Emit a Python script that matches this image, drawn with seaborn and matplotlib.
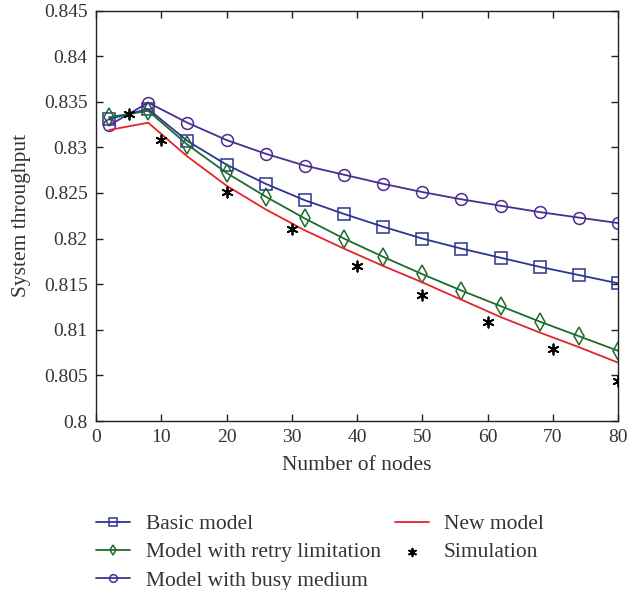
import numpy as np
import pandas as pd
import matplotlib
matplotlib.use("Agg")
import matplotlib.pyplot as plt
import seaborn as sns

# Number of nodes evaluated by the analytical models
nodes = [2, 8, 14, 20, 26, 32, 38, 44, 50, 56, 62, 68, 74, 80]

basic_model = [0.8331, 0.8342, 0.8307, 0.8281, 0.8260, 0.8242, 0.8227, 0.8213,
               0.8200, 0.8189, 0.8179, 0.8169, 0.8160, 0.8151]
retry_model = [0.8333, 0.8340, 0.8303, 0.8272, 0.8246, 0.8222, 0.8200, 0.8180,
               0.8161, 0.8143, 0.8126, 0.8109, 0.8093, 0.8077]
busy_model = [0.8324, 0.8349, 0.8327, 0.8308, 0.8293, 0.8280, 0.8270, 0.8260,
              0.8251, 0.8243, 0.8236, 0.8229, 0.8223, 0.8217]
new_model = [0.8319, 0.8327, 0.8290, 0.8258, 0.8232, 0.8209, 0.8189, 0.8170,
             0.8152, 0.8133, 0.8114, 0.8097, 0.8081, 0.8064]

# Simulation results
sim_nodes = [5, 10, 20, 30, 40, 50, 60, 70, 80]
simulation = [0.8337, 0.8308, 0.8251, 0.8211, 0.8170, 0.8138, 0.8109, 0.8079, 0.8044]

x_ticks = [0, 10, 20, 30, 40, 50, 60, 70, 80]
y_ticks = [0.8, 0.805, 0.81, 0.815, 0.82, 0.825, 0.83, 0.835, 0.84, 0.845]
y_tick_labels = ["0.8", "0.805", "0.81", "0.815", "0.82", "0.825", "0.83", "0.835", "0.84", "0.845"]

sns.set_style("ticks")
plt.rcParams["font.family"] = ["Liberation Serif", "DejaVu Serif"]

fig = plt.figure(figsize=(6.27, 5.90), dpi=100)
ax = fig.add_axes([96 / 627, 1 - 421 / 590, (618 - 96) / 627, (421 - 10.5) / 590])

df = pd.DataFrame({
    "nodes": nodes * 4,
    "value": basic_model + retry_model + busy_model + new_model,
    "series": (["Basic model"] * len(nodes) + ["Model with retry limitation"] * len(nodes)
               + ["Model with busy medium"] * len(nodes) + ["New model"] * len(nodes)),
})

styles = {
    "Basic model": dict(color="#2b3590", marker="s", ms=8),
    "Model with retry limitation": dict(color="#1e6b2e", marker="d", ms=9),
    "Model with busy medium": dict(color="#4a2d8f", marker="o", ms=8.5),
    "New model": dict(color="#e5232b", marker=None, ms=0),
}

for name, st in styles.items():
    sub = df[df["series"] == name]
    sns.lineplot(data=sub, x="nodes", y="value", ax=ax, color=st["color"], lw=1.3,
                 marker=st["marker"] if st["marker"] else None,
                 markersize=st["ms"], markerfacecolor="none",
                 markeredgecolor=st["color"], markeredgewidth=1.1,
                 label=name, legend=False)

sns.scatterplot(x=sim_nodes, y=simulation, ax=ax, marker=(6, 2, 0), s=55,
                color="black", linewidth=1.3, label="Simulation", legend=False, zorder=5)

ax.set_xlim(0, 80)
ax.set_ylim(0.8, 0.845)
ax.set_xticks(x_ticks)
ax.set_yticks(y_ticks)
ax.set_yticklabels(y_tick_labels)
ax.tick_params(direction="in", top=True, right=True, length=5, width=1.0,
               labelsize=14, color="#222222", labelcolor="#333333", pad=6)
for sp in ax.spines.values():
    sp.set_linewidth(1.0)
    sp.set_color("#222222")
ax.set_xlabel("Number of nodes", fontsize=15.5, color="#333333", labelpad=7)
ax.set_ylabel("System throughput", fontsize=15.5, color="#333333", labelpad=9)

h, l = ax.get_legend_handles_labels()
order = ["Basic model", "Model with retry limitation", "Model with busy medium",
         "New model", "Simulation"]
hh = [h[l.index(o)] for o in order]
leg = fig.legend(hh, order, loc="upper left", bbox_to_anchor=(96 / 627, 1 - 514 / 590),
                 ncol=2, frameon=False, fontsize=15.5, handlelength=1.6,
                 handletextpad=0.7, columnspacing=0.65, labelspacing=0.38,
                 borderaxespad=0, borderpad=0, labelcolor="#333333")
for lh in leg.legend_handles:
    try:
        lh.set_markersize(5.5)
    except Exception:
        pass
    try:
        lh.set_sizes([30])
    except Exception:
        pass

fig.savefig("out.png", dpi=100)
